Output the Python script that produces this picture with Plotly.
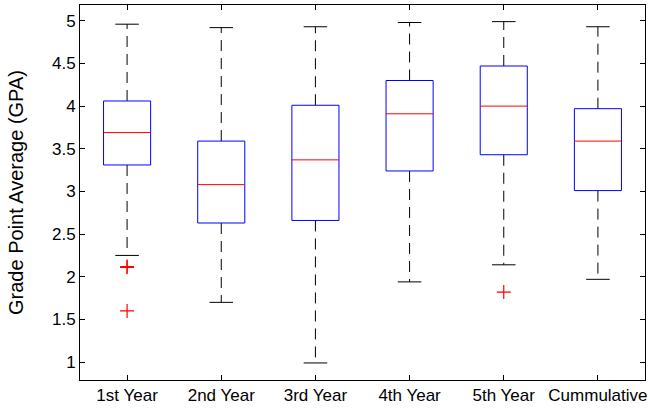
import plotly.graph_objects as go

categories = ["1st Year", "2nd Year", "3rd Year", "4th Year", "5th Year", "Cummulative"]
q1 = [3.31, 2.63, 2.66, 3.24, 3.43, 3.01]
median = [3.69, 3.08, 3.37, 3.91, 4.00, 3.59]
q3 = [4.06, 3.59, 4.01, 4.30, 4.47, 3.97]
lower_whisker = [2.25, 1.70, 0.99, 1.94, 2.14, 1.97]
upper_whisker = [4.96, 4.92, 4.93, 4.98, 4.99, 4.93]
outlier_group = [1, 1, 1, 5]
outlier_values = [2.12, 2.11, 1.60, 1.82]

positions = list(range(1, len(categories) + 1))
half_box = 0.25
half_cap = 0.125

def segs(x0s, x1s, y0s, y1s):
    xs, ys = [], []
    for a, b, c, d in zip(x0s, x1s, y0s, y1s):
        xs += [a, b, None]
        ys += [c, d, None]
    return xs, ys

fig = go.Figure()

# whiskers (dashed)
wx, wy = segs(positions + positions, positions + positions,
              q3 + q1, upper_whisker + lower_whisker)
fig.add_trace(go.Scatter(x=wx, y=wy, mode="lines",
                         line=dict(color="black", width=1, dash="11px,7px"),
                         hoverinfo="skip", showlegend=False))
# caps
cx, cy = segs([p - half_cap for p in positions] * 2, [p + half_cap for p in positions] * 2,
              upper_whisker + lower_whisker, upper_whisker + lower_whisker)
fig.add_trace(go.Scatter(x=cx, y=cy, mode="lines",
                         line=dict(color="black", width=1),
                         hoverinfo="skip", showlegend=False))
# boxes
bx, by = [], []
for p, a, b in zip(positions, q1, q3):
    bx += [p - half_box, p + half_box, p + half_box, p - half_box, p - half_box, None]
    by += [a, a, b, b, a, None]
fig.add_trace(go.Scatter(x=bx, y=by, mode="lines",
                         line=dict(color="#0000ff", width=1),
                         hoverinfo="skip", showlegend=False))
# medians
mx, my = segs([p - half_box for p in positions], [p + half_box for p in positions], median, median)
fig.add_trace(go.Scatter(x=mx, y=my, mode="lines",
                         line=dict(color="#ff0000", width=1),
                         hoverinfo="skip", showlegend=False))
# outliers
fig.add_trace(go.Scatter(x=outlier_group, y=outlier_values, mode="markers",
                         marker=dict(symbol="cross-thin", size=10,
                                     line=dict(color="#ff0000", width=1.2)),
                         hoverinfo="skip", showlegend=False))

axis_common = dict(showgrid=False, zeroline=False, showline=True, linecolor="black",
                   linewidth=1, mirror="ticks", ticks="inside", ticklen=5,
                   tickcolor="black", automargin=False,
                   tickfont=dict(family="Liberation Sans, Arial", size=17, color="black"))

fig.update_layout(
    width=650, height=412,
    margin=dict(l=80, r=5, t=5, b=32),
    plot_bgcolor="white", paper_bgcolor="white",
    font=dict(family="Liberation Sans, Arial", color="black"),
    xaxis=dict(range=[0.5, 6.5], tickmode="array", tickvals=positions,
               ticktext=categories, **axis_common),
    yaxis=dict(range=[0.79, 5.185], tickmode="array",
               tickvals=[1, 1.5, 2, 2.5, 3, 3.5, 4, 4.5, 5],
               ticktext=["1", "1.5", "2", "2.5", "3", "3.5", "4", "4.5", "5"],
               title=dict(text="Grade Point Average (GPA)", font=dict(size=20), standoff=22),
               **axis_common),
)

fig.write_html("out.html", config={"displayModeBar": False},
               post_script="document.body.style.margin='0px';")
